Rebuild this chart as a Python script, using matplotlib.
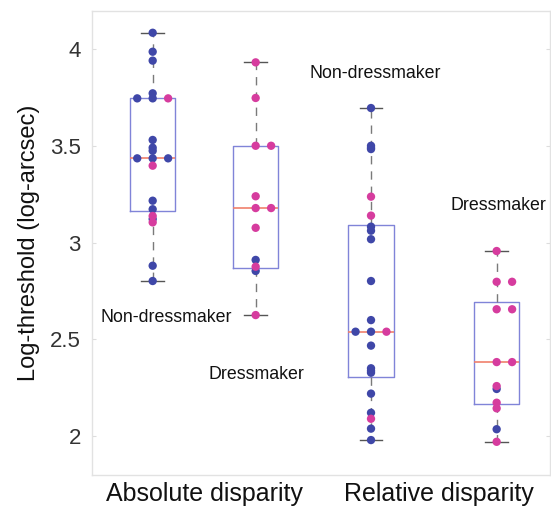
import matplotlib
matplotlib.use('Agg')
import matplotlib.pyplot as plt
import numpy as np

plt.rcParams['font.family'] = ['Liberation Sans', 'DejaVu Sans']

# tick labels of the two conditions
conditions = ['Absolute disparity', 'Relative disparity']

# values of each box, split by dot colour (blue / pink)
abs_non_blue = [4.084, 3.986, 3.94, 3.771, 3.745, 3.745, 3.53, 3.49, 3.474,
                3.435, 3.435, 3.435, 3.216, 3.172, 3.121, 2.88, 2.801]
abs_non_pink = [3.745, 3.397, 3.137, 3.104]
abs_dress_blue = [2.91, 2.853]
abs_dress_pink = [3.931, 3.747, 3.50, 3.50, 3.239, 3.178, 3.178, 3.076, 2.875, 2.625]
rel_non_blue = [3.695, 3.50, 3.49, 3.483, 3.082, 3.061, 3.017, 2.801, 2.599,
                2.539, 2.539, 2.467, 2.35, 2.337, 2.327, 2.219, 2.12, 2.038, 1.979]
rel_non_pink = [3.237, 3.139, 2.539, 2.089]
rel_dress_blue = [2.243, 2.035]
rel_dress_pink = [2.956, 2.797, 2.797, 2.655, 2.655, 2.382, 2.382, 2.258, 2.172, 2.143, 1.97]

# box statistics: low whisker, q1, median, q3, high whisker
box_whislo = [2.801, 2.625, 1.979, 1.97]
box_q1 = [3.163, 2.867, 2.307, 2.164]
box_med = [3.435, 3.178, 2.539, 2.382]
box_q3 = [3.745, 3.50, 3.092, 2.693]
box_whishi = [4.084, 3.931, 3.695, 2.956]

group_labels = ['Non-dressmaker', 'Dressmaker', 'Non-dressmaker', 'Dressmaker']

blue = '#3f47a8'
pink = '#d63c9e'

positions = [1, 2, 3.12, 4.34]
groups = [(abs_non_blue, abs_non_pink), (abs_dress_blue, abs_dress_pink),
          (rel_non_blue, rel_non_pink), (rel_dress_blue, rel_dress_pink)]

fig = plt.figure(figsize=(5.51, 5.08), dpi=100)
ax = fig.add_axes([0.167, 0.065, 0.831, 0.9143])

stats = []
for i in range(4):
    stats.append({'whislo': box_whislo[i], 'q1': box_q1[i], 'med': box_med[i],
                  'q3': box_q3[i], 'whishi': box_whishi[i], 'fliers': []})

ax.bxp(stats, positions=positions, widths=0.44, showfliers=False,
       capwidths=0.22,
       boxprops=dict(color='#8084d8', linewidth=1),
       medianprops=dict(color='#f0806c', linewidth=1.2),
       whiskerprops=dict(color='#7a7a7a', linewidth=1, linestyle=(0, (6, 5))),
       capprops=dict(color='#555555', linewidth=1))

# spread tied values sideways
d = 0.15
for pos, (b, p) in zip(positions, groups):
    vals = b + p
    cols = [blue] * len(b) + [pink] * len(p)
    xs = []
    for k, v in enumerate(vals):
        same = [j for j in range(len(vals)) if vals[j] == v]
        n = len(same)
        r = same.index(k)
        if n == 1:
            off = 0
        elif n == 2:
            off = [0, d][r]
        else:
            off = [-d, 0, d][r]
        xs.append(pos + off)
    ax.scatter(xs, vals, s=36, c=cols, edgecolors='none', zorder=3)

# group names
ax.text(3.158, 3.876, group_labels[2], ha='center', va='center', fontsize=12.8, color='#111111')
ax.text(1.129, 2.610, group_labels[0], ha='center', va='center', fontsize=12.8, color='#111111')
ax.text(2.003, 2.320, group_labels[1], ha='center', va='center', fontsize=12.8, color='#111111')
ax.text(4.357, 3.19, group_labels[3], ha='center', va='center', fontsize=12.8, color='#111111')

ax.set_xlim(0.411, 4.857)
ax.set_ylim(1.7985, 4.199)
ax.set_yticks([2, 2.5, 3, 3.5, 4])
ax.set_yticklabels(['2', '2.5', '3', '3.5', '4'])
ax.set_xticks([1.5, 3.78])
ax.set_xticklabels(conditions)
ax.tick_params(axis='y', direction='in', length=3, color='#dddddd', right=True,
               labelsize=16, labelcolor='#333333', pad=8)
ax.tick_params(axis='x', length=0, labelsize=18, labelcolor='#111111', pad=5)
for s in ax.spines.values():
    s.set_color('#e2e2e2')
    s.set_linewidth(1)
ax.set_ylabel('Log-threshold (log-arcsec)', fontsize=17, color='#111111', labelpad=7)

plt.savefig('out.png', dpi=100)
